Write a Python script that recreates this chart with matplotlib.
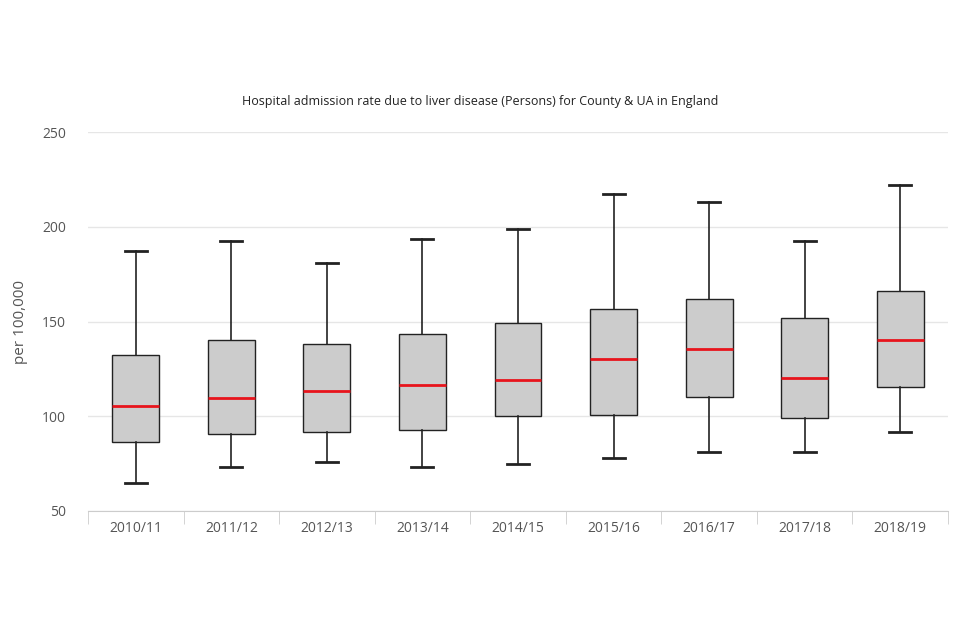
import matplotlib
matplotlib.use("Agg")
import matplotlib.pyplot as plt

plt.rcParams['font.family'] = ['Open Sans', 'DejaVu Sans']

categories = ["2010/11", "2011/12", "2012/13", "2013/14", "2014/15",
              "2015/16", "2016/17", "2017/18", "2018/19"]
whislo = [64.8, 73.2, 75.9, 73.2, 74.8, 78.0, 81.1, 81.1, 91.7]
q1 = [86.4, 90.6, 91.7, 92.7, 100.1, 100.7, 110.2, 99.1, 115.4]
med = [105.4, 109.6, 113.3, 116.5, 119.1, 130.2, 135.5, 120.2, 140.2]
q3 = [132.3, 140.2, 138.1, 143.4, 149.2, 156.6, 161.9, 151.8, 166.1]
whishi = [187.2, 192.5, 180.9, 193.5, 198.8, 217.3, 213.1, 192.5, 222.0]

fig = plt.figure(figsize=(9.6, 6.4), dpi=100)
ax = fig.add_axes([88/960, 1 - 511/640, (948-88)/960, (511-132)/640])

stats = []
for i, c in enumerate(categories):
    stats.append(dict(label=c, whislo=whislo[i], q1=q1[i], med=med[i],
                      q3=q3[i], whishi=whishi[i], fliers=[]))

positions = list(range(len(categories)))
ax.bxp(stats, positions=positions, widths=0.49, capwidths=0.23,
       patch_artist=True, showfliers=False,
       boxprops=dict(facecolor="#cccccc", edgecolor="#222222", linewidth=1),
       medianprops=dict(color="#e8141c", linewidth=2),
       whiskerprops=dict(color="#222222", linewidth=1.2),
       capprops=dict(color="#222222", linewidth=2))

ax.set_xlim(-0.5, len(categories) - 0.5)
ax.set_ylim(50, 250)
ax.set_yticks([50, 100, 150, 200, 250])
ax.yaxis.grid(True, color="#e6e6e6", linewidth=1)
ax.set_axisbelow(True)

for s in ["top", "right", "left"]:
    ax.spines[s].set_visible(False)
ax.spines["bottom"].set_color("#cccccc")

ax.set_xticks(positions)
ax.set_xticklabels(categories, color="#555555", fontsize=10)
ax.tick_params(axis="x", length=0, pad=7)
ax.tick_params(axis="y", length=0, colors="#555555", labelsize=10, pad=16)
# category boundary ticks
ax.set_xticks([p - 0.5 for p in positions] + [len(categories) - 0.5], minor=True)
ax.tick_params(axis="x", which="minor", length=9, color="#cccccc")

ax.set_ylabel("per 100,000", color="#555555", fontsize=11, labelpad=10)
fig.text(0.5, 1 - 101/640,
         "Hospital admission rate due to liver disease (Persons) for County & UA in England",
         fontsize=9, color="#222222", ha="center", va="center")

fig.savefig("out.png", dpi=100)
